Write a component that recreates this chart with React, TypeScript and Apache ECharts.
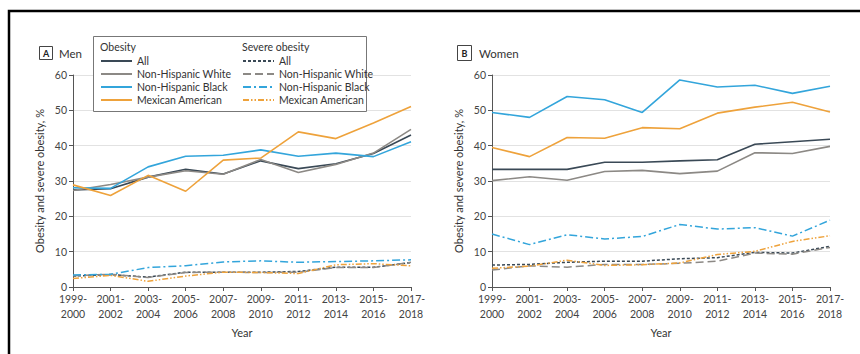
import React, { useEffect, useRef } from "react";
import * as echarts from "echarts";

const categories = [
  "1999-\n2000", "2001-\n2002", "2003-\n2004", "2005-\n2006", "2007-\n2008",
  "2009-\n2010", "2011-\n2012", "2013-\n2014", "2015-\n2016", "2017-\n2018",
];
const yTicks = [0, 10, 20, 30, 40, 50, 60];

// Men
const menObAll = [27.5, 27.8, 31.1, 33.3, 32.0, 35.7, 33.5, 34.9, 37.8, 43.0];
const menObWhite = [27.3, 29.0, 31.1, 32.9, 31.9, 36.1, 32.4, 34.7, 37.9, 44.6];
const menObBlack = [28.1, 27.9, 34.0, 37.0, 37.3, 38.8, 37.0, 37.9, 36.9, 41.1];
const menObMex = [28.9, 25.9, 31.6, 27.1, 35.9, 36.5, 43.9, 42.0, 46.4, 51.1];
const menSevAll = [3.1, 3.5, 2.8, 4.2, 4.2, 4.2, 4.4, 5.6, 5.6, 6.9];
const menSevWhite = [3.2, 3.6, 2.7, 4.1, 4.2, 4.1, 4.2, 5.5, 5.5, 7.0];
const menSevBlack = [3.4, 3.6, 5.5, 6.0, 7.1, 7.4, 7.0, 7.2, 7.4, 7.7];
const menSevMex = [2.4, 3.3, 1.6, 3.1, 4.2, 4.1, 3.8, 6.3, 6.6, 6.0];

// Women
const womenObAll = [33.3, 33.3, 33.3, 35.3, 35.3, 35.7, 36.0, 40.4, 41.1, 41.8];
const womenObWhite = [30.1, 31.2, 30.2, 32.7, 33.0, 32.1, 32.8, 38.0, 37.8, 39.8];
const womenObBlack = [49.4, 48.0, 53.9, 53.0, 49.4, 58.6, 56.6, 57.1, 54.8, 56.8];
const womenObMex = [39.5, 36.9, 42.3, 42.1, 45.1, 44.8, 49.2, 50.9, 52.3, 49.5];
const womenSevAll = [6.2, 6.4, 7.0, 7.3, 7.3, 8.0, 8.3, 9.8, 9.6, 11.5];
const womenSevWhite = [4.8, 6.0, 5.6, 6.4, 6.4, 6.7, 7.3, 9.6, 9.3, 11.2];
const womenSevBlack = [15.0, 12.0, 14.8, 13.6, 14.3, 17.7, 16.4, 16.8, 14.4, 18.9];
const womenSevMex = [5.3, 5.9, 7.6, 6.1, 6.3, 6.8, 9.2, 10.1, 12.9, 14.5];

const groupNames = ["All", "Non-Hispanic White", "Non-Hispanic Black", "Mexican American"];
const colors = ["#3a4956", "#8c8985", "#33a5db", "#eea23b"];
const sevDash = [[3, 2], [8, 4], [8, 3, 2, 3], [6, 2, 1.5, 2, 1.5, 2]];

const FONT = "Lato, 'Noto Sans', sans-serif";

export default function App() {
  const ref = useRef<HTMLDivElement>(null);
  useEffect(() => {
    if (!ref.current) return;
    const chart = echarts.init(ref.current, undefined, { renderer: "svg" });
    const ob = [
      [menObAll, menObWhite, menObBlack, menObMex],
      [womenObAll, womenObWhite, womenObBlack, womenObMex],
    ];
    const sev = [
      [menSevAll, menSevWhite, menSevBlack, menSevMex],
      [womenSevAll, womenSevWhite, womenSevBlack, womenSevMex],
    ];
    const series: any[] = [];
    for (let p = 0; p < 2; p++) {
      for (let i = 0; i < 4; i++) {
        series.push({
          type: "line",
          name: groupNames[i],
          id: `ob-${p}-${i}`,
          data: ob[p][i],
          xAxisIndex: p,
          yAxisIndex: p,
          symbol: "none",
          lineStyle: { color: colors[i], width: 1.6, type: "solid" },
          itemStyle: { color: colors[i] },
          z: 3,
        });
      }
      for (let i = 0; i < 4; i++) {
        series.push({
          type: "line",
          name: "sev " + groupNames[i],
          id: `sev-${p}-${i}`,
          data: sev[p][i],
          xAxisIndex: p,
          yAxisIndex: p,
          symbol: "none",
          lineStyle: { color: colors[i], width: 1.5, type: sevDash[i] },
          itemStyle: { color: colors[i] },
          z: 3,
        });
      }
    }
    const grids = [
      { left: 73, top: 75, width: 338, height: 212 },
      { left: 492, top: 75, width: 338, height: 212 },
    ];
    const xAxes = grids.map((_, i) => ({
      type: "category",
      gridIndex: i,
      data: categories,
      boundaryGap: false,
      name: "Year",
      nameLocation: "middle",
      nameGap: 40,
      nameTextStyle: { fontFamily: FONT, fontSize: 11, color: "#333" },
      axisLine: { lineStyle: { color: "#555", width: 1 } },
      axisTick: { show: true, length: 4, lineStyle: { color: "#555" } },
      axisLabel: {
        fontFamily: FONT,
        fontSize: 10.5,
        color: "#444",
        lineHeight: 15,
        margin: 4,
        interval: 0,
      },
      splitLine: { show: false },
    }));
    const yAxes = grids.map((_, i) => ({
      type: "value",
      gridIndex: i,
      min: yTicks[0],
      max: yTicks[yTicks.length - 1],
      interval: 10,
      name: "Obesity and severe obesity, %",
      nameLocation: "middle",
      nameGap: 28,
      nameTextStyle: { fontFamily: FONT, fontSize: 11, color: "#333" },
      axisLine: { show: true, lineStyle: { color: "#555", width: 1 } },
      axisTick: { show: true, length: 4, lineStyle: { color: "#555" } },
      axisLabel: { fontFamily: FONT, fontSize: 10.5, color: "#444", margin: 6 },
      splitLine: { show: true, lineStyle: { color: "#e2e2e2", width: 1 } },
    }));
    const legendCommon = {
      orient: "vertical",
      top: 55,
      itemWidth: 31,
      itemHeight: 12,
      itemGap: 1,
      padding: 0,
      selectedMode: false,
      itemStyle: { opacity: 0 },
      textStyle: { fontFamily: FONT, fontSize: 10.5, color: "#333", lineHeight: 12 },
      z: 6,
    };
    const option: any = {
      animation: false,
      backgroundColor: "#fff",
      grid: grids,
      xAxis: xAxes,
      yAxis: yAxes,
      legend: [
        { ...legendCommon, left: 100, data: groupNames },
        {
          ...legendCommon,
          left: 242,
          data: groupNames.map((n) => "sev " + n),
          formatter: (n: string) => n.replace(/^sev /, ""),
        },
      ],
      graphic: [
        {
          type: "rect",
          shape: { x: 9, y: 11, width: 900, height: 400 },
          style: { fill: "none", stroke: "#000", lineWidth: 2.5 },
          z: 1,
        },
        {
          type: "rect",
          shape: { x: 93.5, y: 36.5, width: 273, height: 75 },
          style: { fill: "#fff", stroke: "#777", lineWidth: 1 },
          z: 5,
        },
        {
          type: "text",
          x: 100,
          y: 47,
          style: { text: "Obesity", fill: "#333", font: `10.5px ${FONT}`, verticalAlign: "middle" },
          z: 6,
        },
        {
          type: "text",
          x: 242,
          y: 47,
          style: { text: "Severe obesity", fill: "#333", font: `10.5px ${FONT}`, verticalAlign: "middle" },
          z: 6,
        },
        {
          type: "rect",
          shape: { x: 39.5, y: 46.5, width: 13, height: 13 },
          style: { fill: "#fff", stroke: "#444", lineWidth: 1 },
          z: 6,
        },
        {
          type: "text",
          x: 46,
          y: 53.5,
          style: { text: "A", fill: "#222", font: `bold 9px ${FONT}`, align: "center", verticalAlign: "middle" },
          z: 7,
        },
        {
          type: "text",
          x: 59,
          y: 53,
          style: { text: "Men", fill: "#333", font: `11.5px ${FONT}`, verticalAlign: "middle" },
          z: 6,
        },
        {
          type: "rect",
          shape: { x: 457.5, y: 45.5, width: 14, height: 15 },
          style: { fill: "#fff", stroke: "#444", lineWidth: 1 },
          z: 6,
        },
        {
          type: "text",
          x: 464.5,
          y: 53.5,
          style: { text: "B", fill: "#222", font: `bold 9px ${FONT}`, align: "center", verticalAlign: "middle" },
          z: 7,
        },
        {
          type: "text",
          x: 479,
          y: 53,
          style: { text: "Women", fill: "#333", font: `11.5px ${FONT}`, verticalAlign: "middle" },
          z: 6,
        },
      ],
      series,
    };
    chart.setOption(option);
    return () => chart.dispose();
  }, []);
  return (
    <div
      ref={ref}
      style={{ position: "absolute", left: 0, top: 0, width: 860, height: 354 }}
    />
  );
}
